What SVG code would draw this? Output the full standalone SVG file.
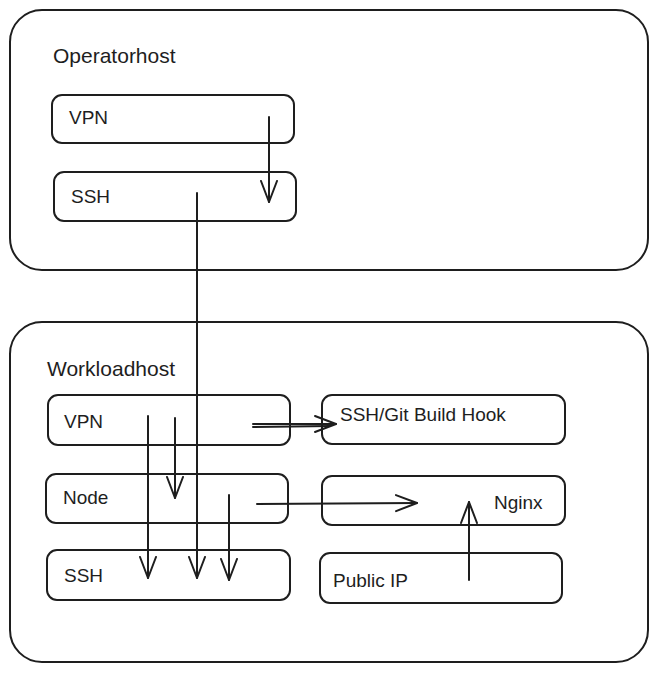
<svg xmlns="http://www.w3.org/2000/svg" width="659" height="673" viewBox="0 0 659 673">
<defs>
<style>
.box{fill:none;stroke:#1e1e1e;stroke-width:2;}
.t{font-family:"Liberation Sans",Arial,sans-serif;fill:#1e1e1e;font-size:19px;}
.h{font-size:21px;}
.c{fill:none;stroke:#1e1e1e;stroke-width:2;stroke-linecap:round;}
</style>
<marker id="ah" viewBox="0 0 24 20" refX="22" refY="10" markerWidth="24" markerHeight="20" markerUnits="userSpaceOnUse" orient="auto">
<path d="M1,2 L22,10 L1,18" fill="none" stroke="#1e1e1e" stroke-width="2" stroke-linecap="round" stroke-linejoin="round"/>
</marker>
</defs>
<rect width="659" height="673" fill="#ffffff"/>
<g id="operatorhost">
<rect class="box" x="10" y="10" width="638" height="260" rx="32"/>
<text class="t h" x="53" y="63">Operatorhost</text>
</g>
<g id="op-vpn">
<rect class="box" x="52" y="95" width="242" height="48" rx="10"/>
<text class="t" x="69" y="124">VPN</text>
</g>
<g id="op-ssh">
<rect class="box" x="54" y="172" width="242" height="49" rx="10"/>
<text class="t" x="71" y="203">SSH</text>
</g>
<g id="workloadhost">
<rect class="box" x="10" y="322" width="638" height="340" rx="32"/>
<text class="t h" x="47" y="376">Workloadhost</text>
</g>
<g id="wl-vpn">
<rect class="box" x="48" y="395" width="242" height="50" rx="10"/>
<text class="t" x="64" y="428">VPN</text>
</g>
<g id="wl-node">
<rect class="box" x="46" y="474" width="242" height="49" rx="10"/>
<text class="t" x="63" y="504">Node</text>
</g>
<g id="wl-ssh">
<rect class="box" x="47" y="550" width="243" height="50" rx="10"/>
<text class="t" x="64" y="582">SSH</text>
</g>
<g id="wl-git">
<rect class="box" x="322" y="395" width="243" height="49" rx="10"/>
<text class="t" x="340" y="421">SSH/Git Build Hook</text>
</g>
<g id="wl-nginx">
<rect class="box" x="322" y="476" width="243" height="49" rx="10"/>
<text class="t" x="494" y="509">Nginx</text>
</g>
<g id="wl-publicip">
<rect class="box" x="320" y="553" width="242" height="50" rx="10"/>
<text class="t" x="333" y="587">Public IP</text>
</g>
<g id="connectors">
<path class="c" d="M269,117 L269,202" marker-end="url(#ah)"/>
<path class="c" d="M197,193 L197,578" marker-end="url(#ah)"/>
<path class="c" d="M148,416 L148,578" marker-end="url(#ah)"/>
<path class="c" d="M175,418 L175,498" marker-end="url(#ah)"/>
<path class="c" d="M229,495 L229,580" marker-end="url(#ah)"/>
<path class="c" d="M253,424 L336,424" marker-end="url(#ah)"/>
<path class="c" d="M253,427 L330,426"/>
<path class="c" d="M257,504 L417,503" marker-end="url(#ah)"/>
<path class="c" d="M469,580 L469,502" marker-end="url(#ah)"/>
</g>
</svg>
